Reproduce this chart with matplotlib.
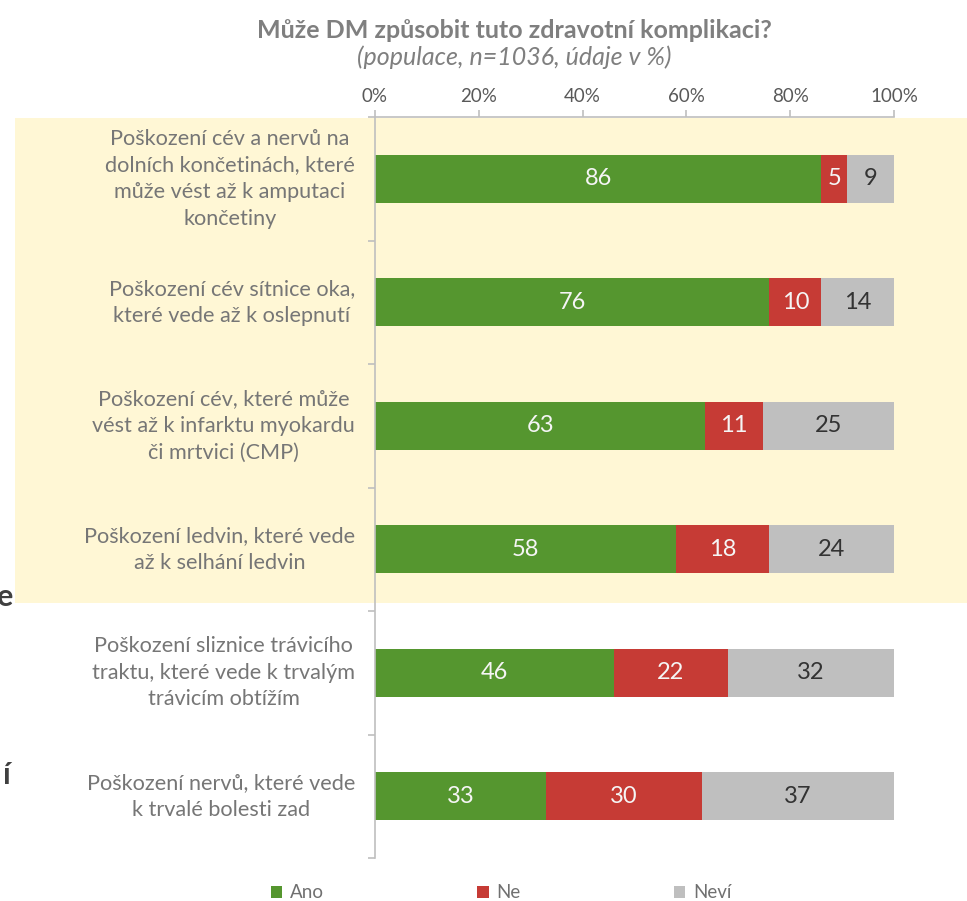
import numpy as np
import matplotlib.pyplot as plt
from matplotlib.patches import Rectangle

plt.rcParams['font.family'] = ['Lato', 'DejaVu Sans']

categories = [
    "Poškození cév a nervů na\ndolních končetinách, které\nmůže vést až k amputaci\nkončetiny",
    "Poškození cév sítnice oka,\nkteré vede až k oslepnutí",
    "Poškození cév, které může\nvést až k infarktu myokardu\nči mrtvici (CMP)",
    "Poškození ledvin, které vede\naž k selhání ledvin",
    "Poškození sliznice trávicího\ntraktu, které vede k trvalým\ntrávicím obtížím",
    "Poškození nervů, které vede\nk trvalé bolesti zad",
]
ano = np.array([86, 76, 63, 58, 46, 33])
ne = np.array([5, 10, 11, 18, 22, 30])
nevi = np.array([9, 14, 25, 24, 32, 37])
series_names = ["Ano", "Ne", "Neví"]
colors = ["#55962F", "#C63B35", "#BFBFBF"]
label_colors = ["#F5F5F5", "#F5F5F5", "#333333"]
ticks = [0, 20, 40, 60, 80, 100]

W, H = 967, 901
fig = plt.figure(figsize=(W / 100, H / 100), dpi=100)

# yellow highlight box behind the first four rows
fig.patches.append(Rectangle((15 / W, 1 - 603 / H), (W - 15) / W, (603 - 118) / H,
                             transform=fig.transFigure, facecolor="#FFF7D5",
                             edgecolor="none", zorder=0))

ax = fig.add_axes([375 / W, 1 - 858 / H, (894 - 375) / W, (858 - 117) / H])
ax.set_facecolor("none")
ax.set_zorder(2)

data = np.vstack([ano, ne, nevi]).astype(float)
totals = data.sum(axis=0)
shares = data / totals * 100
y = np.arange(len(categories))
left = np.zeros(len(categories))
for i in range(3):
    ax.barh(y, shares[i], left=left, height=0.39, color=colors[i], label=series_names[i], zorder=2)
    for j in range(len(categories)):
        ax.text(left[j] + shares[i][j] / 2, y[j], str(int(data[i][j])), ha="center", va="center",
                color=label_colors[i], fontsize=17, zorder=3)
    left += shares[i]

ax.set_ylim(len(categories) - 0.5, -0.5)
ax.set_xlim(0, 100)
ax.xaxis.tick_top()
ax.set_xticks(ticks)
ax.set_xticklabels([f"{t}%" for t in ticks], color="#595959", fontsize=13.5)
ax.set_yticks(np.arange(len(categories) + 1) - 0.5)
ax.set_yticklabels([])
ax.tick_params(axis="x", length=5, color="#BFBFBF", width=1.2, pad=4)
ax.tick_params(axis="y", length=5, color="#BFBFBF", width=1.2)
for s in ["right", "bottom"]:
    ax.spines[s].set_visible(False)
for s in ["left", "top"]:
    ax.spines[s].set_color("#BFBFBF")
    ax.spines[s].set_linewidth(1.2)

for j, cat in enumerate(categories):
    ax.text(-20 / 519 * 100, y[j], cat, ha="right", va="center", multialignment="center",
            color="#767676", fontsize=15.6, linespacing=1.42)

fig.text(514 / W, 1 - 30 / H, "Může DM způsobit tuto zdravotní komplikaci?", ha="center", va="center",
         fontsize=18, fontweight="bold", color="#7F7F7F")
fig.text(514 / W, 1 - 57 / H, "(populace, n=1036, údaje v %)", ha="center", va="center",
         fontsize=18, fontstyle="italic", color="#7F7F7F")

# cut-off characters from neighbouring slide content
fig.text(13 / W, 1 - 597 / H, "e", ha="right", va="center", fontsize=22, fontweight="bold", color="#404040")
fig.text(11 / W, 1 - 775 / H, "í", ha="right", va="center", fontsize=22, fontweight="bold", color="#404040")

leg = fig.legend(loc="center", bbox_to_anchor=(501 / W, 1 - 893 / H), ncol=3, frameon=False,
                 handlelength=0.6, handleheight=0.6, handletextpad=0.4, columnspacing=8.2,
                 fontsize=13.5)
for t in leg.get_texts():
    t.set_color("#707070")

fig.savefig("out.png", dpi=100)
